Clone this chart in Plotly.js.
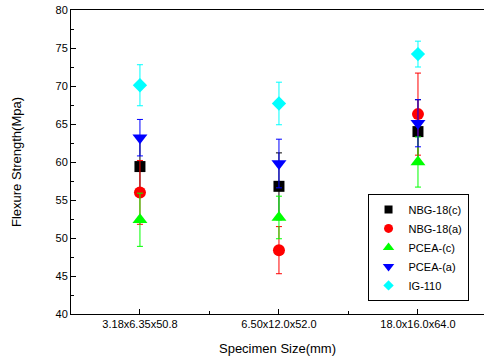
<!DOCTYPE html>
<html>
<head>
<meta charset="utf-8">
<script src="https://cdn.plot.ly/plotly-3.0.1.min.js"></script>
<style>html,body{margin:0;padding:0;background:#fff;}#chart{width:484px;height:361px;}</style>
</head>
<body>
<div id="chart"></div>
<script>
var categories = ["3.18x6.35x50.8", "6.50x12.0x52.0", "18.0x16.0x64.0"];
var seriesNames = ["NBG-18(c)", "NBG-18(a)", "PCEA-(c)", "PCEA-(a)", "IG-110"];
var nbg18c = [59.4, 56.8, 64.0];
var nbg18cErr = [3.6, 4.4, 4.2];
var nbg18a = [56.0, 48.4, 66.3];
var nbg18aErr = [4.2, 3.1, 5.4];
var pceac = [52.4, 52.7, 60.0];
var pceacErr = [3.5, 2.8, 3.3];
var pceaa = [63.2, 59.8, 65.1];
var pceaaErr = [2.4, 3.2, 3.1];
var ig110 = [70.1, 67.7, 74.2];
var ig110Err = [2.7, 2.8, 1.7];

var xIdx = categories.map(function(c, i){ return i; });
var styles = [
  {color: "#000000", symbol: "square", size: 11, lsize: 8},
  {color: "#ff0000", symbol: "circle", size: 12, lsize: 9},
  {color: "#00ff00", symbol: "triangle-up", size: 13, lsize: 10},
  {color: "#0000ff", symbol: "triangle-down", size: 13, lsize: 10},
  {color: "#00ffff", symbol: "diamond", size: 11, lsize: 8}
];
var vals = [nbg18c, nbg18a, pceac, pceaa, ig110];
var errs = [nbg18cErr, nbg18aErr, pceacErr, pceaaErr, ig110Err];

var traces = vals.map(function(v, k){
  return {
    type: "scatter", mode: "markers", name: seriesNames[k], showlegend: false,
    x: xIdx, y: v,
    marker: {color: styles[k].color, symbol: styles[k].symbol, size: styles[k].size, line: {width: 0}},
    error_y: {type: "data", array: errs[k], visible: true, color: styles[k].color, thickness: 1, width: 3}
  };
});
// legend entries (same series, smaller legend symbols)
seriesNames.forEach(function(n, k){
  traces.push({
    type: "scatter", mode: "markers", name: n, showlegend: true,
    x: [null], y: [null],
    marker: {color: styles[k].color, symbol: styles[k].symbol, size: styles[k].lsize, line: {width: 0}}
  });
});

var layout = {
  width: 484, height: 361,
  margin: {l: 71, r: 0, t: 10, b: 47, pad: 0},
  paper_bgcolor: "#ffffff", plot_bgcolor: "#ffffff",
  font: {family: "Liberation Sans, Arial, sans-serif", size: 11, color: "#000"},
  showlegend: true,
  legend: {
    x: 0.718, y: 0.395, xanchor: "left", yanchor: "top",
    bordercolor: "#000", borderwidth: 1, bgcolor: "#fff",
    font: {size: 11, color: "#000"}, itemwidth: 30, tracegroupgap: 0
  },
  xaxis: {
    range: [-0.496, 2.475],
    tickmode: "array", tickvals: xIdx, ticktext: categories,
    showgrid: false, zeroline: false,
    showline: true, linecolor: "#000", linewidth: 1, mirror: true,
    ticks: "inside", ticklen: 5, tickcolor: "#000",
    minor: {tickvals: [0.5, 1.5], ticks: "inside", ticklen: 3, tickcolor: "#000"},
    title: {text: "Specimen Size(mm)", font: {size: 13}, standoff: 14}
  },
  yaxis: {
    range: [40, 80],
    tickmode: "linear", tick0: 40, dtick: 5,
    showgrid: false, zeroline: false,
    showline: true, linecolor: "#000", linewidth: 1, mirror: false,
    ticks: "inside", ticklen: 5, tickcolor: "#000",
    minor: {dtick: 2.5, ticks: "inside", ticklen: 3, tickcolor: "#000"},
    title: {text: "Flexure Strength(Mpa)", font: {size: 13}, standoff: 30}
  }
};

Plotly.newPlot("chart", traces, layout, {displayModeBar: false, staticPlot: true});
</script>
</body>
</html>
